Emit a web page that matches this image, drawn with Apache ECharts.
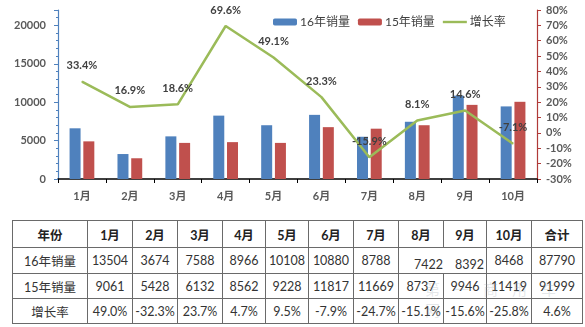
<!DOCTYPE html>
<html>
<head>
<meta charset="utf-8">
<script src="https://cdn.jsdelivr.net/npm/echarts@6/dist/echarts.min.js"></script>
<style>
  html, body { margin: 0; padding: 0; background: #fff; }
  #wrap { position: relative; width: 585px; height: 327px; overflow: hidden; }
  #chart { position: absolute; left: 0; top: 0; width: 585px; height: 210px; }
  #tbl { position: absolute; left: 12px; top: 220px; border-collapse: collapse;
         font-family: Lato, "Noto Sans CJK SC", sans-serif; font-size: 12.5px; color: #333; }
  #tbl td { border: 1px solid #6a6a6a; text-align: center; padding: 0; white-space: nowrap; }
  #tbl tr.head td { font-weight: bold; color: #222; }
  #tbl td.split { position: relative; }
  #tbl td.split span { position: absolute; top: 9px; }
  #mark { position: absolute; left: 425px; top: 278px; font-family: "Noto Sans CJK SC", sans-serif;
          font-size: 15px; letter-spacing: 14px; color: rgba(150,160,170,0.25); pointer-events: none; }
</style>
</head>
<body>
<div id="wrap">
  <div id="chart"></div>
  <table id="tbl"></table>
  <div id="mark">第一商用车网</div>
</div>
<script>
// monthly sales (vehicles) and year-on-year growth
const months = ['1月', '2月', '3月', '4月', '5月', '6月', '7月', '8月', '9月', '10月'];
const sales16 = [6600, 3250, 5550, 8250, 7000, 8350, 5500, 7450, 10850, 9450];
const sales15 = [4900, 2700, 4700, 4800, 4700, 6750, 6550, 7000, 9650, 10050];
const growth = [33.4, 16.9, 18.6, 69.6, 49.1, 23.3, -15.9, 8.1, 14.6, -7.1];
const seriesNames = ['16年销量', '15年销量', '增长率'];

// summary table rows
const tableHeader = ['年份', '1月', '2月', '3月', '4月', '5月', '6月', '7月', '8月', '9月', '10月', '合计'];
const table16 = ['16年销量', '13504', '3674', '7588', '8966', '10108', '10880', '8788', '7422', '8392', '8468', '87790'];
const table15 = ['15年销量', '9061', '5428', '6132', '8562', '9228', '11817', '11669', '8737', '9946', '11419', '91999'];
const tableRate = ['增长率', '49.0%', '-32.3%', '23.7%', '4.7%', '9.5%', '-7.9%', '-24.7%', '-15.1%', '-15.6%', '-25.8%', '4.6%'];

const colWidths = [75, 45, 45, 45, 43, 43, 45, 45, 45, 43, 45, 51];
const rowHeights = [27, 26, 25, 25];

const font = 'Lato, "Noto Sans CJK SC", sans-serif';
const chart = echarts.init(document.getElementById('chart'), null, { renderer: 'canvas' });

chart.setOption({
  animation: false,
  textStyle: { fontFamily: font },
  legend: {
    data: [
      { name: seriesNames[0] },
      { name: seriesNames[1] },
      { name: seriesNames[2], icon: 'path://M0,0 L24,0 L24,2.4 L0,2.4 Z' }
    ],
    left: 268,
    top: 11,
    itemWidth: 24,
    itemHeight: 7,
    itemGap: 8,
    symbolKeepAspect: true,
    textStyle: { fontSize: 12, color: '#404040', fontFamily: font, padding: [0, 0, 0, -2] }
  },
  grid: { left: 58, right: 48, top: 10, bottom: 31, containLabel: false },
  xAxis: {
    type: 'category',
    data: months,
    boundaryGap: true,
    axisLine: { lineStyle: { color: '#000', width: 1.5 } },
    axisTick: { show: true, length: 4, lineStyle: { color: '#000' } },
    axisLabel: { color: '#595959', fontSize: 11, fontWeight: 'bold', margin: 12, fontFamily: font }
  },
  yAxis: [
    {
      type: 'value',
      min: 0,
      max: 22000,
      interval: 5000,
      splitLine: { show: false },
      axisLine: { show: true, lineStyle: { color: '#4F81BD', width: 1.2 } },
      axisTick: { show: true, inside: false, length: 4, lineStyle: { color: '#4F81BD' } },
      minorTick: { show: true, splitNumber: 5, length: 2, lineStyle: { color: '#4F81BD' } },
      axisLabel: {
        showMaxLabel: false,
        formatter: v => String(v),
        color: '#595959', fontSize: 11, fontWeight: 'bold', margin: 12, fontFamily: font
      }
    },
    {
      type: 'value',
      min: -30,
      max: 80,
      interval: 10,
      splitLine: { show: false },
      axisLine: { show: true, lineStyle: { color: '#B03A38', width: 1.2 } },
      axisTick: { show: true, length: 4, lineStyle: { color: '#B03A38' } },
      axisLabel: { formatter: '{value}%', color: '#595959', fontSize: 11, fontWeight: 'bold', margin: 9, fontFamily: font }
    }
  ],
  series: [
    {
      name: seriesNames[0],
      type: 'bar',
      data: sales16,
      barWidth: 11,
      barGap: '25%',
      itemStyle: { color: '#4F81BD' }
    },
    {
      name: seriesNames[1],
      type: 'bar',
      data: sales15,
      barWidth: 11,
      itemStyle: { color: '#C0504D' }
    },
    {
      name: seriesNames[2],
      type: 'line',
      yAxisIndex: 1,
      data: growth,
      symbol: 'circle',
      symbolSize: 1,
      showSymbol: true,
      lineStyle: { color: '#9BBB59', width: 2.5 },
      itemStyle: { color: '#9BBB59' },
      z: 5,
      label: {
        show: true,
        position: 'top',
        distance: 10,
        formatter: p => p.value + '%',
        color: '#404040',
        fontSize: 11,
        fontWeight: 'bold',
        fontFamily: font
      }
    }
  ]
});

// build the summary table under the chart
const tbl = document.getElementById('tbl');
const colgroup = document.createElement('colgroup');
colWidths.forEach(w => {
  const c = document.createElement('col');
  c.style.width = w + 'px';
  colgroup.appendChild(c);
});
tbl.appendChild(colgroup);

[tableHeader, table16, table15, tableRate].forEach((row, ri) => {
  const tr = document.createElement('tr');
  tr.style.height = rowHeights[ri] + 'px';
  if (ri === 0) tr.className = 'head';
  for (let ci = 0; ci < row.length; ci++) {
    const td = document.createElement('td');
    if (ri === 1 && ci === 8) {
      // August and September share one cell in this row
      td.colSpan = 2;
      td.className = 'split';
      const a = document.createElement('span');
      a.textContent = row[ci];
      a.style.left = '15px';
      const b = document.createElement('span');
      b.textContent = row[ci + 1];
      b.style.right = '2px';
      td.appendChild(a);
      td.appendChild(b);
      ci++;
    } else {
      td.textContent = row[ci];
    }
    tr.appendChild(td);
  }
  tbl.appendChild(tr);
});
</script>
</body>
</html>
